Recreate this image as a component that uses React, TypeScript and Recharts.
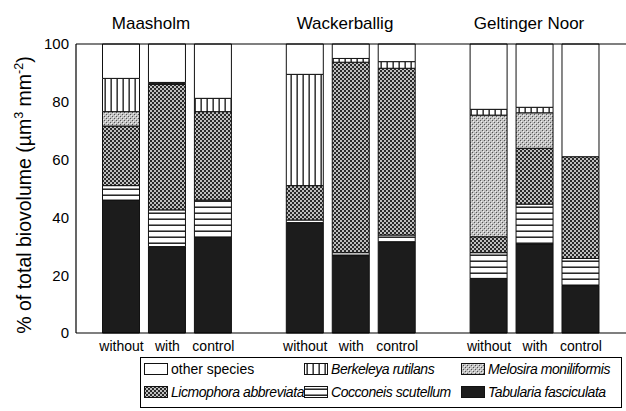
import React from 'react';
import { BarChart, Bar, XAxis, YAxis, ReferenceLine } from 'recharts';

const positions = [0, 1, 2, 4, 5, 6, 8, 9, 10];
const treatments = ['without', 'with', 'control', 'without', 'with', 'control', 'without', 'with', 'control'];
const sites = ['Maasholm', 'Wackerballig', 'Geltinger Noor'];
const tabularia = [46.0, 29.9, 33.1, 38.2, 26.8, 31.6, 18.9, 30.8, 16.4];
const cocconeis = [5.0, 12.7, 12.9, 0.9, 1.0, 2.3, 8.9, 13.8, 9.4];
const licmophora = [20.6, 43.4, 30.6, 11.9, 65.9, 57.7, 5.5, 19.3, 35.2];
const melosira = [5.0, 0.4, 0, 0, 0, 0, 42.1, 12.3, 0];
const berkeleya = [11.5, 0.3, 4.6, 38.5, 1.3, 2.3, 2.0, 1.9, 0];
const other = [11.9, 13.3, 18.8, 10.5, 5.0, 6.1, 22.6, 21.9, 39.0];
const yTicks = [0, 20, 40, 60, 80, 100];

const data = positions.map((x, i) => ({
  x,
  tabularia: tabularia[i],
  cocconeis: cocconeis[i],
  licmophora: licmophora[i],
  melosira: melosira[i],
  berkeleya: berkeleya[i],
  other: other[i],
}));

const series = [
  { key: 'tabularia', fill: '#1c1c1c' },
  { key: 'cocconeis', fill: 'url(#pat-cocc)' },
  { key: 'licmophora', fill: 'url(#pat-licm)' },
  { key: 'melosira', fill: 'url(#pat-melo)' },
  { key: 'berkeleya', fill: 'url(#pat-berk)' },
  { key: 'other', fill: '#ffffff' },
];

const legendItems = [
  { label: 'other species', fill: '#ffffff', italic: false },
  { label: 'Berkeleya rutilans', fill: 'url(#pat-berk)', italic: true },
  { label: 'Melosira moniliformis', fill: 'url(#pat-melo)', italic: true },
  { label: 'Licmophora abbreviata', fill: 'url(#pat-licm)', italic: true },
  { label: 'Cocconeis scutellum', fill: 'url(#pat-cocc)', italic: true },
  { label: 'Tabularia fasciculata', fill: '#1c1c1c', italic: true },
];

const FONT = '"Liberation Sans", Arial, Helvetica, sans-serif';

const Patterns = () => (
  <svg width={0} height={0} style={{ position: 'absolute' }}>
    <defs>
      <pattern id="pat-berk" width={6} height={6} patternUnits="userSpaceOnUse">
        <rect width={6} height={6} fill="#fff" />
        <rect x={2.5} y={0} width={1.3} height={6} fill="#111" />
      </pattern>
      <pattern id="pat-cocc" width={6} height={6} patternUnits="userSpaceOnUse">
        <rect width={6} height={6} fill="#fff" />
        <rect x={0} y={2.5} width={6} height={1.4} fill="#111" />
      </pattern>
      <pattern id="pat-licm" width={4} height={4} patternUnits="userSpaceOnUse">
        <rect width={4} height={4} fill="#2a2a2a" />
        <circle cx={1} cy={1} r={0.95} fill="#fff" />
        <circle cx={3} cy={3} r={0.95} fill="#fff" />
      </pattern>
      <pattern id="pat-melo" width={4} height={4} patternUnits="userSpaceOnUse">
        <rect width={4} height={4} fill="#c2c2c2" />
        <rect x={0} y={0} width={1} height={1} fill="#555" />
        <rect x={2} y={2} width={1} height={1} fill="#555" />
        <rect x={1} y={1} width={1} height={1} fill="#f0f0f0" />
        <rect x={3} y={3} width={1} height={1} fill="#f0f0f0" />
      </pattern>
    </defs>
  </svg>
);

export default function App() {
  return (
    <div style={{ position: 'relative', width: 626, height: 411, fontFamily: FONT, background: '#fff' }}>
      <style>{`body{margin:0}`}</style>
      <Patterns />
      <BarChart
        width={626}
        height={411}
        data={data}
        margin={{ top: 44, right: 0, left: 0, bottom: 48 }}
      >
        <XAxis
          dataKey="x"
          type="number"
          domain={[-0.99, 10.98]}
          ticks={positions}
          interval={0}
          allowDataOverflow
          tickFormatter={(v) => treatments[positions.indexOf(v)] ?? ''}
          tickLine={false}
          tickMargin={2}
          height={30}
          axisLine={{ stroke: '#000', strokeWidth: 1.2 }}
          tick={{ fill: '#000', fontSize: 14, fontFamily: FONT }}
        />
        <YAxis
          type="number"
          domain={[0, 100]}
          ticks={yTicks}
          width={76}
          tickLine={false}
          tickSize={5}
          tickMargin={2}
          axisLine={{ stroke: '#000', strokeWidth: 1.2 }}
          tick={{ fill: '#000', fontSize: 15, fontFamily: FONT }}
        />
        <ReferenceLine y={100} stroke="#000" strokeWidth={1.2} ifOverflow="extendDomain" />
        {series.map((s) => (
          <Bar
            key={s.key}
            dataKey={s.key}
            stackId="a"
            fill={s.fill}
            stroke="#111"
            strokeWidth={1}
            barSize={37}
            isAnimationActive={false}
          />
        ))}
      </BarChart>
      <svg width={626} height={411} style={{ position: 'absolute', left: 0, top: 0, pointerEvents: 'none' }}>
        <text
          transform="translate(31,195) rotate(-90)"
          textAnchor="middle"
          fontSize={19.5}
          fontFamily={FONT}
          fill="#000"
        >
          % of total biovolume (µm
          <tspan fontSize={12.5} dy={-8}>3</tspan>
          <tspan dy={8}> mm</tspan>
          <tspan fontSize={12.5} dy={-8}>-2</tspan>
          <tspan dy={8}>)</tspan>
        </text>
        {sites.map((s, i) => (
          <text key={s} x={[151, 345, 529][i]} y={29} textAnchor="middle" fontSize={17} fontFamily={FONT} fill="#000">
            {s}
          </text>
        ))}
      </svg>
      <div
        style={{
          position: 'absolute',
          left: 140,
          top: 357,
          width: 482,
          height: 51,
          boxSizing: 'border-box',
          border: '1px solid #000',
          display: 'grid',
          gridTemplateColumns: '160px 157px 158px',
          gridTemplateRows: '22px 24px',
          paddingLeft: 3,
          paddingTop: 0,
          fontSize: 14,
          color: '#000',
        }}
      >
        {legendItems.map((it) => (
          <div key={it.label} style={{ display: 'flex', alignItems: 'center', whiteSpace: 'nowrap' }}>
            <svg width={25} height={13} style={{ marginRight: 2, flex: 'none' }}>
              <rect x={0.5} y={0.5} width={23} height={11} fill={it.fill} stroke="#111" strokeWidth={1} />
            </svg>
            <span style={{ fontStyle: it.italic ? 'italic' : 'normal', letterSpacing: it.italic ? -0.45 : 0 }}>
              {it.label}
            </span>
          </div>
        ))}
      </div>
    </div>
  );
}
